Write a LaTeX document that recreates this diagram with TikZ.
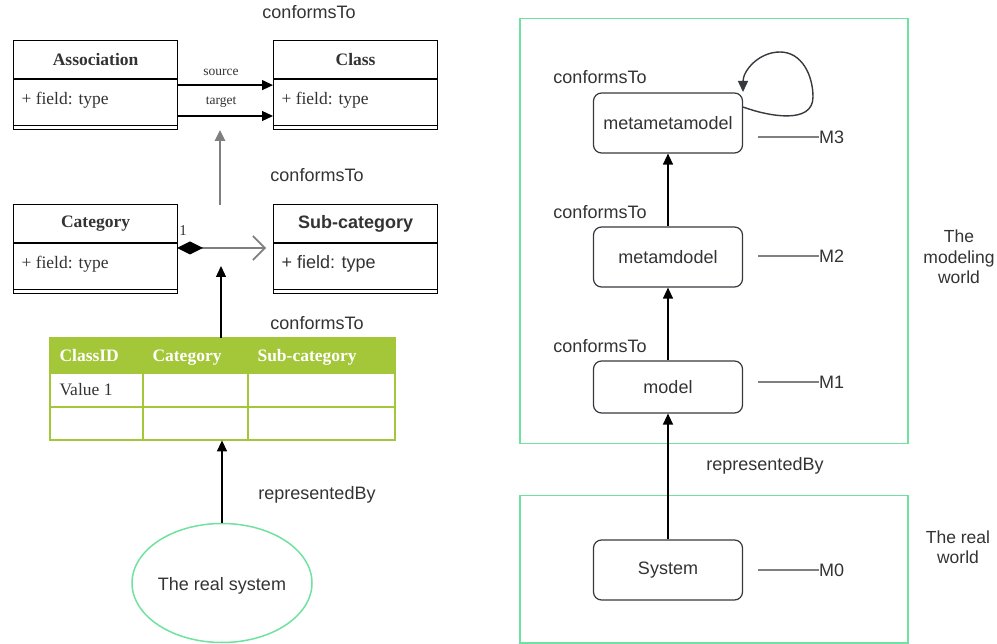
\documentclass[tikz,border=0pt]{standalone}
\usepackage{fontspec}
\setmainfont{Liberation Serif}
\setsansfont{Liberation Sans}
\usetikzlibrary{arrows.meta,shapes.geometric,calc}
\definecolor{txt}{HTML}{333333}
\definecolor{mint}{HTML}{6EE29E}
\definecolor{olive}{HTML}{A4C639}
\definecolor{edge}{HTML}{36393D}
\definecolor{midgray}{HTML}{7F7F7F}
\begin{document}
\begin{tikzpicture}[x=1pt,y=-1pt,
  umlbox/.style={draw=black,line width=1.2pt,minimum width=164pt,minimum height=89pt,anchor=north west,inner sep=0pt},
  umlhead/.style={font=\fontsize{17.5}{20}\selectfont\bfseries,text=txt},
  umlfield/.style={font=\fontsize{17.5}{20}\selectfont,text=txt,anchor=west},
  sanslabel/.style={font=\sffamily\fontsize{18}{21}\selectfont,text=txt},
  levelbox/.style={draw=edge,line width=1.2pt,rounded corners=8pt,minimum width=149pt,minimum height=60pt,font=\sffamily\fontsize{18}{21}\selectfont,text=txt},
  worldbox/.style={draw=mint,line width=1.5pt,anchor=north west,inner sep=0pt},
  link/.style={draw=black,line width=1.3pt,-{Triangle[length=11pt,width=10pt]}},
  levelline/.style={draw=gray,line width=1.8pt},
  cell/.style={draw=olive,line width=1.5pt},
]
\useasboundingbox (0,0) rectangle (997,644);

% ---------- UML classes ----------
\node[umlbox] (assoc) at (13,40) {};
\node[umlbox] (cls) at (273,40) {};
\node[umlbox] (cat) at (13,204) {};
\node[umlbox] (sub) at (273,204) {};
\foreach \b/\h in {assoc/39,cls/39,cat/39,sub/39}{
  \draw[line width=1.2pt] ($(\b.north west)+(0,\h)$) -- ($(\b.north east)+(0,\h)$);
  \draw[line width=1.2pt] ($(\b.south west)+(0,-5)$) -- ($(\b.south east)+(0,-5)$);
}
\node[umlhead] at ($(assoc.north)+(0,20)$) {Association};
\node[umlhead] at ($(cls.north)+(0,20)$) {Class};
\node[umlhead] at ($(cat.north)+(0,20)$) {Category};
\node[umlhead,font=\sffamily\fontsize{18}{21}\selectfont\bfseries] at ($(sub.north)+(0,20)$) {Sub-category};
\node[umlfield] at ($(assoc.north west)+(5,60)$) {+ field: type};
\node[umlfield] at ($(cls.north west)+(5,60)$) {+ field: type};
\node[umlfield] at ($(cat.north west)+(5,60)$) {+ field: type};
\node[umlfield,font=\sffamily\fontsize{18}{21}\selectfont] at ($(sub.north west)+(5,60)$) {+ field: type};

% associations between the classes
\coordinate (tgt) at (0,116);
\draw[link] (assoc.east) -- (cls.west);
\draw[link] (assoc.east |- tgt) -- (cls.west |- tgt);
\node[font=\fontsize{13.5}{15}\selectfont,text=txt] (srclbl) at (221,72) {source};
\node[font=\fontsize{13.5}{15}\selectfont,text=txt] (tgtlbl) at (221,102) {target};

% composition Category -> Sub-category
\coordinate (compA) at (177,248);
\coordinate (compB) at (266,248);
\draw[midgray,line width=2pt,{Diamond[length=26pt,width=13pt,fill=black,color=black]}-{Straight Barb[length=12pt,width=24pt,line width=1.6pt]}] (compA) -- (compB);
\node[font=\fontsize{15}{17}\selectfont,text=txt] (mult) at (183,231) {1};

% conformsTo arrow up to the meta level
\coordinate (up1) at (220,205);
\coordinate (up2) at (220,130);
\draw[midgray,line width=2.6pt,-{Triangle[length=11pt,width=10pt]}] (up1) -- (up2);

\node[sanslabel] (c1) at (309,12) {conformsTo};
\node[sanslabel] (c2) at (317,175) {conformsTo};
\node[sanslabel] (c3) at (317,323) {conformsTo};

% ---------- Table ----------
\node[anchor=north west,minimum width=345pt,minimum height=102pt,inner sep=0pt] (tbl) at (50,338) {};
\fill[olive] (50,338) rectangle (395,373);
\draw[cell] (50,338) rectangle (395,440);
\draw[cell] (50,373) -- (395,373);
\draw[cell] (50,407) -- (395,407);
\draw[cell] (143,338) -- (143,440);
\draw[cell] (248,338) -- (248,440);
\begin{scope}[every node/.style={anchor=base west,font=\fontsize{17.5}{20}\selectfont\bfseries,text=white}]
\node (h1) at (56,362) {ClassID};
\node (h2) at (149,362) {Category};
\node (h3) at (254,362) {Sub-category};
\end{scope}
\node[anchor=base west,font=\fontsize{17.5}{20}\selectfont,text=txt] (v1) at (56,396) {Value 1};

\coordinate (tblup) at (221,338);
\coordinate (tbltip) at (221,266);
\draw[link] (tblup) -- (tbltip);

% ---------- real system ----------
\node[ellipse,draw=mint,line width=1.5pt,minimum width=180pt,minimum height=119pt,inner sep=0pt] (sys) at (222,583) {};
\node[font=\sffamily\fontsize{18}{21}\selectfont,text=txt] (syslbl) at (222,586) {The real system};
\draw[link] (sys.north) -- (sys.north |- tbl.south);
\node[sanslabel] (rb1) at (317,495) {representedBy};

% ---------- Right: modelling levels ----------
\node[worldbox,minimum width=388pt,minimum height=425pt] (modw) at (519,18) {};
\node[worldbox,minimum width=388pt,minimum height=147pt] (realw) at (519,495) {};

\node[levelbox] (mmm) at (668,123) {metametamodel};
\node[levelbox] (mm) at (668,257) {metamdodel};
\node[levelbox,minimum height=52pt] (m) at (668,387) {model};
\node[levelbox] (s) at (668,570) {System};

\draw[link] (mm.north) -- (mmm.south);
\draw[link] (m.north) -- (mm.south);
\draw[link] (s.north) -- (m.south);

% self loop on the metametamodel
\coordinate (loopA) at (743,107);
\coordinate (loopB) at (743,92);
\draw[edge,line width=1.4pt,-{Triangle[length=11pt,width=10pt]}]
  (loopA) to[out=-20,in=-90] (813,97) to[out=90,in=0] (780,52) to[out=180,in=90] (loopB);

\node[sanslabel] (k1) at (600,77) {conformsTo};
\node[sanslabel] (k2) at (600,212) {conformsTo};
\node[sanslabel] (k3) at (600,346) {conformsTo};
\node[sanslabel] (rb2) at (765,466) {representedBy};

% level markers
\foreach \n/\y/\lab in {l3/137/M3,l2/256/M2,l1/382/M1,l0/570/M0}{
  \coordinate (\n a) at (758,\y);
  \node[sanslabel,anchor=west,inner sep=0pt] (\n) at (819,\y) {\lab};
  \draw[levelline] (\n a) -- (\n.west);
}

\node[sanslabel,align=center,font=\sffamily\fontsize{17.5}{20.5}\selectfont] (modlbl) at (959,257) {The\\modeling\\world};
\node[sanslabel,align=center,font=\sffamily\fontsize{17.5}{20.5}\selectfont] (reallbl) at (958,547) {The real\\world};
\end{tikzpicture}
\end{document}
